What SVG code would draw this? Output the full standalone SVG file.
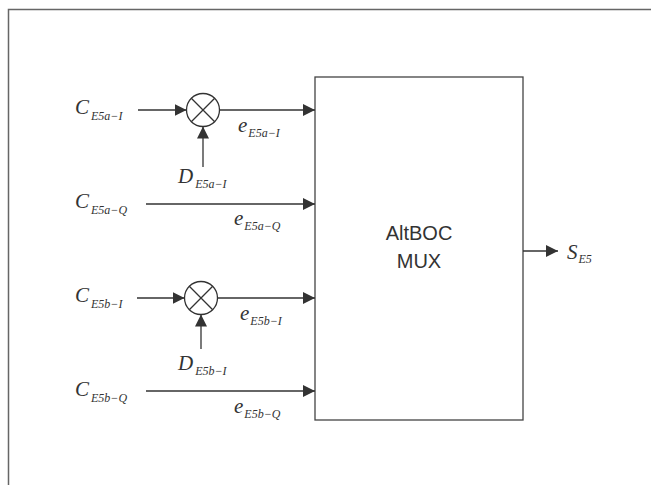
<svg xmlns="http://www.w3.org/2000/svg" width="651" height="485" viewBox="0 0 651 485">
<style>
.ln{stroke:#333;stroke-width:1.3;fill:none}
.v{font-family:"Liberation Serif",serif;font-style:italic;fill:#333}
.big{font-size:21px}
.sub{font-size:12px}
.box{fill:#fff;stroke:#444;stroke-width:1.3}
.lbl{font-family:"Liberation Sans",sans-serif;font-size:20px;fill:#333;text-anchor:middle}
</style>
<defs>
<marker id="ah" markerUnits="userSpaceOnUse" markerWidth="13" markerHeight="12" refX="12" refY="6" orient="auto">
<path d="M0,0 L12,6 L0,12 z" fill="#333"/>
</marker>
</defs>
<rect x="0" y="0" width="651" height="485" fill="#fff"/>
<path d="M8.5,485 V9.5 H651" fill="none" stroke="#666" stroke-width="1.5"/>

<g id="mux">
<rect class="box" x="315" y="77" width="208" height="343"/>
<text class="lbl" x="419" y="240">AltBOC</text>
<text class="lbl" x="419" y="268">MUX</text>
</g>

<g id="mixer1">
<circle class="ln" cx="203" cy="110" r="16.5"/>
<path class="ln" d="M191.3,98.3 L214.7,121.7 M214.7,98.3 L191.3,121.7"/>
</g>
<g id="mixer2">
<circle class="ln" cx="201" cy="298" r="16.5"/>
<path class="ln" d="M189.3,286.3 L212.7,309.7 M212.7,286.3 L189.3,309.7"/>
</g>

<g id="connectors">
<path class="ln" d="M138,110 H186.5" marker-end="url(#ah)"/>
<path class="ln" d="M219.5,110 H315" marker-end="url(#ah)"/>
<path class="ln" d="M203,167 V126.5" marker-end="url(#ah)"/>
<path class="ln" d="M146,204 H315" marker-end="url(#ah)"/>
<path class="ln" d="M137,298 H184.5" marker-end="url(#ah)"/>
<path class="ln" d="M217.5,298 H315" marker-end="url(#ah)"/>
<path class="ln" d="M201,349 V314.5" marker-end="url(#ah)"/>
<path class="ln" d="M146,391 H315" marker-end="url(#ah)"/>
<path class="ln" d="M523,251 H558" marker-end="url(#ah)"/>
</g>

<g id="labels">
<text class="v" x="75" y="114"><tspan class="big">C</tspan><tspan class="sub" dx="2" dy="6">E5a−I</tspan></text>
<text class="v" x="238" y="132"><tspan class="big">e</tspan><tspan class="sub" dx="1" dy="5">E5a−I</tspan></text>
<text class="v" x="178" y="183"><tspan class="big">D</tspan><tspan class="sub" dx="2" dy="5">E5a−I</tspan></text>
<text class="v" x="75" y="208"><tspan class="big">C</tspan><tspan class="sub" dx="2" dy="6">E5a−Q</tspan></text>
<text class="v" x="234" y="225"><tspan class="big">e</tspan><tspan class="sub" dx="1" dy="5">E5a−Q</tspan></text>
<text class="v" x="75" y="302"><tspan class="big">C</tspan><tspan class="sub" dx="2" dy="6">E5b−I</tspan></text>
<text class="v" x="240" y="320"><tspan class="big">e</tspan><tspan class="sub" dx="1" dy="5">E5b−I</tspan></text>
<text class="v" x="178" y="370"><tspan class="big">D</tspan><tspan class="sub" dx="2" dy="5">E5b−I</tspan></text>
<text class="v" x="75" y="396"><tspan class="big">C</tspan><tspan class="sub" dx="2" dy="6">E5b−Q</tspan></text>
<text class="v" x="234" y="413"><tspan class="big">e</tspan><tspan class="sub" dx="1" dy="5">E5b−Q</tspan></text>
<text class="v" x="567" y="259"><tspan class="big">S</tspan><tspan class="sub" dx="1" dy="4">E5</tspan></text>
</g>
</svg>
